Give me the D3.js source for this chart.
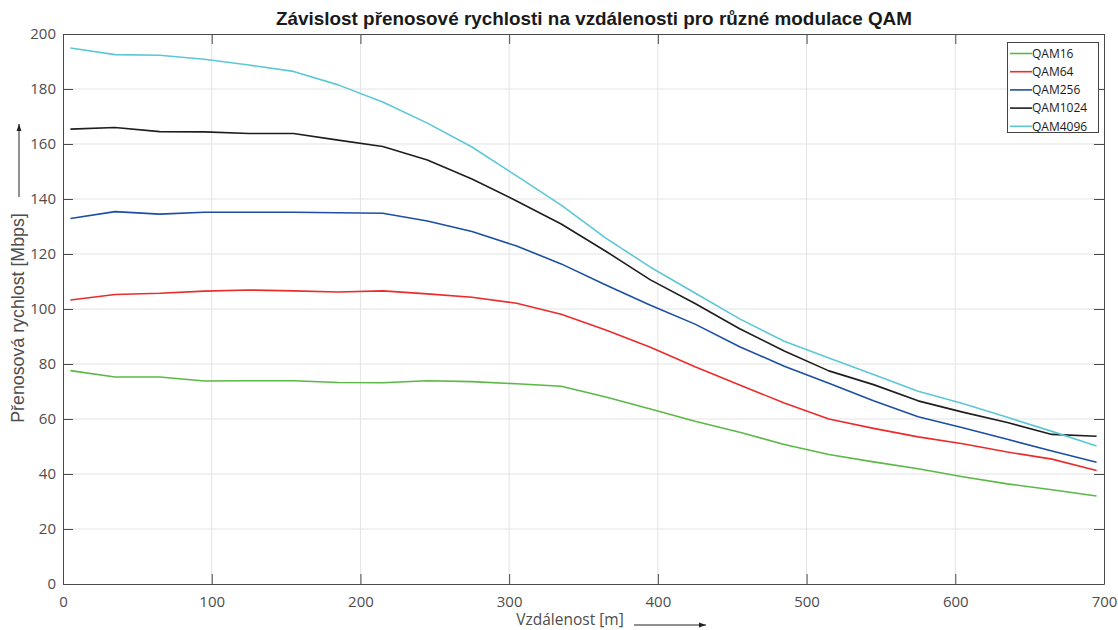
<!DOCTYPE html>
<html><head><meta charset="utf-8">
<script src="https://cdn.jsdelivr.net/npm/d3@7"></script>
<style>body{margin:0;background:#fff}svg{display:block}</style>
</head><body>
<script>
const distances = [5,35,65,95,125,155,185,215,245,275,305,335,365,395,425,455,485,515,545,575,605,635,665,695];
const qam16   = [77.6,75.3,75.3,73.8,73.9,73.9,73.3,73.2,73.9,73.6,72.8,71.9,68.0,63.6,59.2,55.2,50.7,47.1,44.4,41.9,39.0,36.4,34.3,32.0];
const qam64   = [103.3,105.3,105.7,106.5,106.9,106.6,106.2,106.6,105.5,104.3,102.1,98.1,92.4,86.1,79.0,72.4,65.8,60.0,56.6,53.5,51.0,48.0,45.4,41.3];
const qam256  = [132.9,135.4,134.5,135.2,135.2,135.2,135.0,134.8,132.0,128.2,122.9,116.4,108.7,101.4,94.5,86.3,79.2,73.0,66.6,60.8,56.8,52.6,48.4,44.3];
const qam1024 = [165.4,166.0,164.5,164.4,163.8,163.8,161.4,159.1,154.2,147.3,139.3,130.9,121.0,110.6,102.0,92.8,84.7,77.5,72.5,66.6,62.5,58.7,54.4,53.7];
const qam4096 = [194.9,192.5,192.3,190.8,188.7,186.4,181.5,175.3,167.6,158.9,148.4,137.8,125.8,115.2,105.8,96.4,88.3,82.2,76.2,70.1,65.6,60.6,55.5,50.2];
const seriesNames = ["QAM16","QAM64","QAM256","QAM1024","QAM4096"];
const seriesColors = ["#5ab946","#ec2b2b","#1c4fa4","#1e1e1e","#5cc7d6"];
const xTicks = [0,100,200,300,400,500,600,700];
const yTicks = [0,20,40,60,80,100,120,140,160,180,200];
const titleText = "Závislost přenosové rychlosti na vzdálenosti pro různé modulace QAM";
const xLabel = "Vzdálenost [m]";
const yLabel = "Přenosová rychlost [Mbps]";

const W = 1118, H = 630;
const L = 63, R = 1104, T = 34, B = 584;
const svg = d3.select("body").append("svg").attr("width", W).attr("height", H);
const x = d3.scaleLinear().domain([0,700]).range([L,R]);
const y = d3.scaleLinear().domain([0,200]).range([B,T]);
const tickFont = "'Open Sans', sans-serif";
const axisCol = "#4a4a4a";

// grid
svg.append("g").selectAll("line").data(xTicks.slice(1,-1)).join("line")
  .attr("x1", d=>x(d)).attr("x2", d=>x(d)).attr("y1", T).attr("y2", B)
  .attr("stroke", "#e3e3e3").attr("stroke-width", 1);
svg.append("g").selectAll("line").data(yTicks.slice(1,-1)).join("line")
  .attr("y1", d=>y(d)).attr("y2", d=>y(d)).attr("x1", L).attr("x2", R)
  .attr("stroke", "#e3e3e3").attr("stroke-width", 1);

// lines
const series = [qam16, qam64, qam256, qam1024, qam4096];
const line = d3.line().x((d,i)=>x(distances[i])).y(d=>y(d));
series.forEach((s,k)=>{
  svg.append("path").datum(s).attr("d", line).attr("fill","none")
    .attr("stroke", seriesColors[k]).attr("stroke-width", 1.6).attr("stroke-linejoin","round");
});

// axes (box with inward ticks)
const styleAxis = g => {
  g.select(".domain").attr("stroke", axisCol);
  g.selectAll(".tick line").attr("stroke", axisCol);
  g.selectAll("text").attr("fill", "#4d4d4d").attr("font-family", tickFont).attr("font-size", 15);
};
svg.append("g").attr("transform", `translate(0,${B})`)
  .call(d3.axisBottom(x).tickValues(xTicks).tickSizeInner(-10).tickSizeOuter(0).tickPadding(12))
  .call(styleAxis);
svg.append("g").attr("transform", `translate(0,${T})`)
  .call(d3.axisTop(x).tickValues(xTicks).tickSizeInner(-10).tickSizeOuter(0).tickFormat(""))
  .call(styleAxis);
svg.append("g").attr("transform", `translate(${L},0)`)
  .call(d3.axisLeft(y).tickValues(yTicks).tickSizeInner(-10).tickSizeOuter(0).tickPadding(7))
  .call(styleAxis);
svg.append("g").attr("transform", `translate(${R},0)`)
  .call(d3.axisRight(y).tickValues(yTicks).tickSizeInner(-10).tickSizeOuter(0).tickFormat(""))
  .call(styleAxis);

// title
svg.append("text").attr("x", 594).attr("y", 25).attr("text-anchor","middle")
  .attr("font-family","'Liberation Sans', Arial, sans-serif").attr("font-weight","bold")
  .attr("font-size", 18.5).attr("fill","#1a1a1a")
  .attr("textLength", 636).attr("lengthAdjust","spacingAndGlyphs").text(titleText);

// x label + arrow
svg.append("text").attr("x", 570).attr("y", 625).attr("text-anchor","middle")
  .attr("font-family", tickFont).attr("font-size", 15.5).attr("fill","#4d4d4d").text(xLabel);
const defs = svg.append("defs");
defs.append("marker").attr("id","ah").attr("viewBox","0 0 10 10").attr("refX",10).attr("refY",5)
  .attr("markerWidth",7).attr("markerHeight",7).attr("orient","auto")
  .append("path").attr("d","M0,1.5 L10,5 L0,8.5 Z").attr("fill","#222");
svg.append("line").attr("x1",634).attr("x2",706).attr("y1",625).attr("y2",625)
  .attr("stroke","#222").attr("stroke-width",1).attr("marker-end","url(#ah)");

// y label + arrow
svg.append("text").attr("transform","translate(24,318) rotate(-90)").attr("text-anchor","middle")
  .attr("font-family","'Liberation Sans', Arial, sans-serif").attr("font-size", 17.8).attr("fill","#4d4d4d").text(yLabel);
svg.append("line").attr("x1",19).attr("x2",19).attr("y1",197).attr("y2",124)
  .attr("stroke","#222").attr("stroke-width",1).attr("marker-end","url(#ah)");

// legend
const lg = svg.append("g");
lg.append("rect").attr("x",1007.5).attr("y",42.5).attr("width",91).attr("height",90)
  .attr("fill","#fff").attr("stroke","#444").attr("stroke-width",1);
seriesNames.forEach((n,i)=>{
  const yy = 53.5 + i*18.2;
  lg.append("line").attr("x1",1010).attr("x2",1032).attr("y1",yy).attr("y2",yy)
    .attr("stroke", seriesColors[i]).attr("stroke-width",1.6);
  lg.append("text").attr("x",1032).attr("y",yy+4.3).attr("font-family",tickFont)
    .attr("font-size",12).attr("fill","#1a1a1a").text(n);
});
</script>
</body></html>
